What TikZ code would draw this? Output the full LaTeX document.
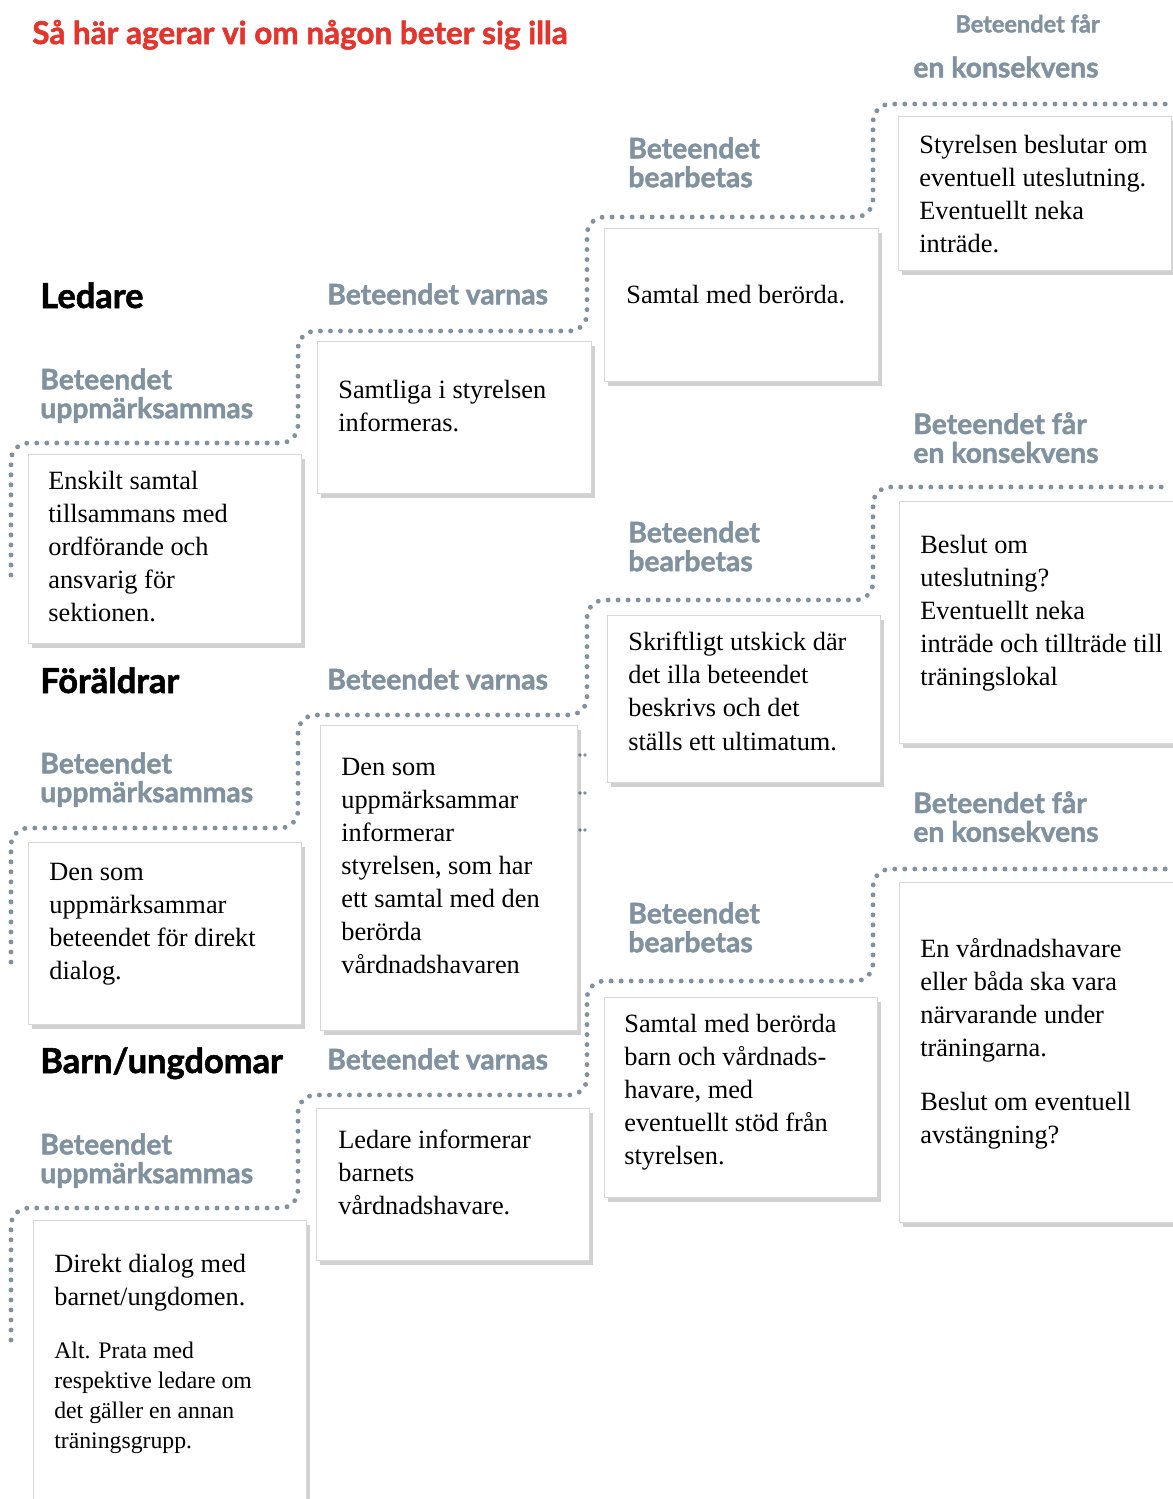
\documentclass[tikz,border=0pt]{standalone}
\usepackage{fontspec}
\setmainfont{Liberation Serif}
\newfontfamily\headfont{Lato}[BoldFeatures={FakeBold=1.6}]
\usetikzlibrary{shadows}
\definecolor{headgray}{RGB}{128,146,160}
\definecolor{titlered}{RGB}{228,52,44}
\definecolor{boxline}{RGB}{215,215,215}

\begin{document}
\begin{tikzpicture}[x=0.02cm, y=-0.02cm,
	box/.style={draw=boxline, line width=0.5pt, fill=white, drop shadow={shadow xshift=2pt, shadow yshift=-3pt, fill=black, opacity=0.18}},
	txt/.style={anchor=north west, inner sep=0pt, align=left, font=\fontsize{15}{18.8}\selectfont},
	smalltxt/.style={anchor=north west, inner sep=0pt, align=left, font=\fontsize{13.5}{17}\selectfont},
	head/.style={anchor=north west, inner sep=0pt, align=left, text=headgray, font=\headfont\bfseries\fontsize{16.1}{16.4}\selectfont},
	group/.style={anchor=base west, inner sep=0pt, font=\headfont\bfseries\fontsize{19.6}{21}\selectfont},
	trail/.style={draw=headgray, line width=2.8pt, line cap=round, dash pattern=on 0pt off 5.7pt, rounded corners=0.35cm}]
		\useasboundingbox (0,0) rectangle (1173,1499);
		% title
		\node[anchor=base west, inner sep=0pt, text=titlered, font=\headfont\bfseries\fontsize{17.9}{20}\selectfont] (title) at (32,44) {Så här agerar vi om någon beter sig illa};
		% dotted stairs
		\draw[trail] (11,575) -- (11,443) -- (298,443) -- (298,331) -- (587,331) -- (587,217) -- (873,217) -- (873,104) -- (1170,104);
		\draw[trail] (11,962) -- (11,828) -- (298,828) -- (298,715) -- (587,715) -- (587,600) -- (873,600) -- (873,487) -- (1170,487);
		\draw[trail] (11,1340) -- (11,1208) -- (298,1208) -- (298,1095) -- (587,1095) -- (587,981) -- (873,981) -- (873,869) -- (1170,869);
		\foreach \y in {755,793,830}
			\fill[headgray] (580,\y) circle (1.1pt) (585,\y) circle (1.1pt);

		% Ledare
		\node[group] (ledare) at (40,308) {Ledare};
		\node[head] (l1head) at (40,368) {Beteendet\\uppmärksammas};
		\node[head] (l2head) at (327,283) {Beteendet varnas};
		\node[head] (l3head) at (628,137) {Beteendet\\bearbetas};
		\node[head, font=\headfont\bfseries\fontsize{13.4}{15}\selectfont] (l4heada) at (955,14) {Beteendet får};
		\node[head] (l4headb) at (913,56) {en konsekvens};
		\path[box] (28,454) rectangle (301,643);
		\path[box] (317,341) rectangle (591,493);
		\path[box] (604,228) rectangle (878,381);
		\path[box] (898,116) rectangle (1171,270);
		\node[txt] (l1) at (48,471) {Enskilt samtal\\tillsammans med\\ordförande och\\ansvarig för\\sektionen.};
		\node[txt] (l2) at (338,380) {Samtliga i styrelsen\\informeras.};
		\node[txt] (l3) at (626,285) {Samtal med berörda.};
		\node[txt] (l4) at (919,135) {Styrelsen beslutar om\\eventuell uteslutning.\\Eventuellt neka\\inträde.};

		% Föräldrar
		\node[group] (foraldrar) at (40,693) {Föräldrar};
		\node[head] (f1head) at (40,752) {Beteendet\\uppmärksammas};
		\node[head] (f2head) at (327,668) {Beteendet varnas};
		\node[head] (f3head) at (628,521) {Beteendet\\bearbetas};
		\node[head] (f4head) at (913,412) {Beteendet får\\en konsekvens};
		\path[box] (28,842) rectangle (301,1024);
		\path[box] (320,725) rectangle (577,1030);
		\path[box] (607,615) rectangle (880,782);
		\path[box] (899,501) rectangle (1190,743);
		\node[txt] (f1) at (49,863) {Den som\\uppmärksammar\\beteendet för direkt\\dialog.};
		\node[txt] (f2) at (341,758) {Den som\\uppmärksammar\\informerar\\styrelsen, som har\\ett samtal med den\\berörda\\vårdnadshavaren};
		\node[txt] (f3) at (628,632) {Skriftligt utskick där\\det illa beteendet\\beskrivs och det\\ställs ett ultimatum.};
		\node[txt] (f4) at (920,535) {Beslut om\\uteslutning?\\Eventuellt neka\\inträde och tillträde till\\träningslokal};

		% Barn/ungdomar
		\node[group] (barn) at (40,1073) {Barn/ungdomar};
		\node[head] (b1head) at (40,1133) {Beteendet\\uppmärksammas};
		\node[head] (b2head) at (327,1048) {Beteendet varnas};
		\node[head] (b3head) at (628,902) {Beteendet\\bearbetas};
		\node[head] (b4head) at (913,791) {Beteendet får\\en konsekvens};
		\path[box] (33,1220) rectangle (306,1530);
		\path[box] (316,1108) rectangle (589,1260);
		\path[box] (604,997) rectangle (877,1197);
		\path[box] (899,882) rectangle (1190,1222);
		\node[txt] (b1a) at (54,1254) {Direkt dialog med\\barnet/ungdomen.};
		\node[smalltxt] (b1b) at (54,1342) {Alt. Prata med\\respektive ledare om\\det gäller en annan\\träningsgrupp.};
		\node[txt] (b2) at (338,1130) {Ledare informerar\\barnets\\vårdnadshavare.};
		\node[txt] (b3) at (624,1014) {Samtal med berörda\\barn och vårdnads-\\havare, med\\eventuellt stöd från\\styrelsen.};
		\node[txt] (b4a) at (920,938) {En vårdnadshavare\\eller båda ska vara\\närvarande under\\träningarna.};
		\node[txt] (b4b) at (920,1092) {Beslut om eventuell\\avstängning?};
	\end{tikzpicture}
\end{document}
